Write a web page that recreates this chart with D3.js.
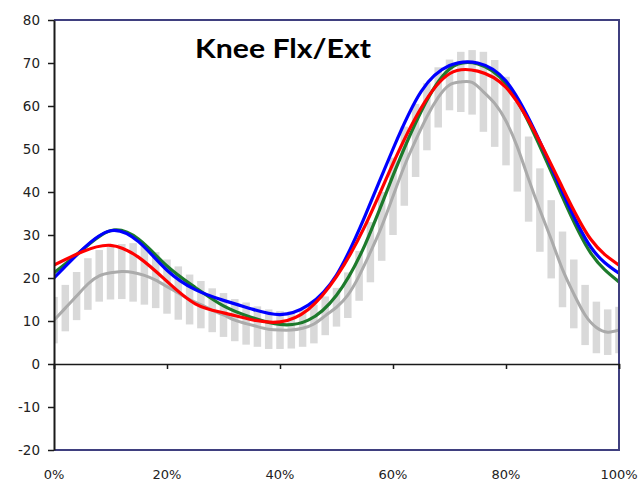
<!DOCTYPE html>
<html>
<head>
<meta charset="utf-8">
<script src="https://cdn.jsdelivr.net/npm/d3@7"></script>
<style>
  html, body { margin: 0; padding: 0; background: #fff; }
  svg { display: block; }
</style>
</head>
<body>
<script>
// ---- Data ----
const chartTitle = "Knee Flx/Ext";
const yTicks = [-20, -10, 0, 10, 20, 30, 40, 50, 60, 70, 80];
const xTicks = [0, 20, 40, 60, 80, 100];
const xTickLabels = ["0%", "20%", "40%", "60%", "80%", "100%"];

// Normative band (mean ± SD), every 2% of cycle
const normPct = [0,2,4,6,8,10,12,14,16,18,20,22,24,26,28,30,32,34,36,38,40,42,44,46,48,50,
                 52,54,56,58,60,62,64,66,68,70,72,74,76,78,80,82,84,86,88,90,92,94,96,98,100];
const normMean = [10.2,13,15.8,18.6,20.5,21.2,21.5,21.3,20.6,19.5,18,16.5,15,13.8,12.5,11.4,10.2,9.4,8.7,8.1,7.9,7.9,8.3,9.3,11.2,13.2,
                  16,20.5,26,32,39,46,52,57.5,62,64.9,65.6,65.5,63.3,60.6,56.5,50.5,43,35.8,29,22,16.3,11.4,8.5,7.4,7.9];
const normSD = [5.4,5.4,5.6,6,6,6.2,6.4,6.8,6.8,6.5,6.3,6.2,5.8,5.5,5.1,5.1,4.9,4.9,4.7,4.6,4.4,4.3,4.3,4.5,4.5,4.5,
                5.3,5.8,7,8,9,9.2,8.5,7.8,7,5.9,7,7.5,9.3,10.1,10.3,10.4,9.9,9.7,9.1,8.8,8,7,6,5.3,5.4];

// Subject curves, every 5% of cycle
const curvePct = [0,5,10,15,20,25,30,35,40,45,50,55,60,65,70,75,80,85,90,95,100];
const greenVals = [21.2,26.5,31,29,22.8,17.8,13.5,10.8,9.2,10.2,16,27.6,43.8,58.8,68.6,69.8,65.2,53.5,38.8,25.8,19.1];
const blueVals  = [20,26.6,31,28.4,21.8,17.3,14.8,12.8,11.5,13.7,20.7,34.3,50,63.4,69.4,70.0,65.8,54.5,40,27.2,21.1];
const redVals   = [23,26.1,27.6,24.8,19.2,14,11.9,10.3,9.8,12.7,20.3,32,46.6,59.6,67.5,68.1,64.3,54.2,41,29,23];

// ---- Chart ----
const W = 638, H = 482;
const svg = d3.select("body").append("svg").attr("width", W).attr("height", H);

const x = d3.scaleLinear().domain([0, 100]).range([54, 619]);
const y = d3.scaleLinear().domain([-20, 80]).range([450, 20]);

svg.append("defs").append("clipPath").attr("id", "plotClip")
  .append("rect").attr("x", x(0)).attr("y", y(80)).attr("width", x(100) - x(0)).attr("height", y(-20) - y(80));

const plot = svg.append("g").attr("clip-path", "url(#plotClip)");

// SD bars
const barW = 7.5;
plot.selectAll("rect.sd").data(normPct).enter().append("rect")
  .attr("class", "sd")
  .attr("x", (d) => x(d) - barW / 2)
  .attr("width", barW)
  .attr("y", (d, i) => y(normMean[i] + normSD[i]))
  .attr("height", (d, i) => y(normMean[i] - normSD[i]) - y(normMean[i] + normSD[i]))
  .attr("fill", "#d9d9d9");

// Mean line
const meanLine = d3.line().x((d) => x(d[0])).y((d) => y(d[1])).curve(d3.curveNatural);
plot.append("path")
  .datum(normPct.map((p, i) => [p, normMean[i]]))
  .attr("d", meanLine)
  .attr("fill", "none").attr("stroke", "#ababab").attr("stroke-width", 3);

const cLine = d3.line().x((d) => x(d[0])).y((d) => y(d[1])).curve(d3.curveNatural);
const series = [
  { vals: greenVals, color: "#1d7a2c" },
  { vals: blueVals, color: "#0000ff" },
  { vals: redVals, color: "#ff0000" }
];
series.forEach((s) => {
  plot.append("path")
    .datum(curvePct.map((p, i) => [p, s.vals[i]]))
    .attr("d", cLine)
    .attr("fill", "none").attr("stroke", s.color).attr("stroke-width", 3.2)
    .attr("stroke-linejoin", "round");
});

// Plot border (top, right, bottom)
const navy = "#3f3f7f";
svg.append("path")
  .attr("d", `M${x(0)},${y(80)}H${x(100)}V${y(-20)}H${x(0)}`)
  .attr("fill", "none").attr("stroke", navy).attr("stroke-width", 2);

// Zero line (x axis)
const xAxis = d3.axisBottom(x).tickValues(xTicks).tickSize(5).tickFormat("");
const xg = svg.append("g").attr("transform", `translate(0,${y(0)})`).call(xAxis);
xg.select(".domain").attr("stroke", "#1a1a1a").attr("stroke-width", 1.5);
xg.selectAll(".tick line").attr("stroke", "#1a1a1a").attr("stroke-width", 1.5);

// Left axis
const yAxis = d3.axisLeft(y).tickValues(yTicks).tickSize(6).tickSizeOuter(0).tickFormat("");
const yg = svg.append("g").attr("transform", `translate(${x(0)},0)`).call(yAxis);
yg.select(".domain").attr("stroke", "#1a1a1a").attr("stroke-width", 2);
yg.selectAll(".tick line").attr("stroke", "#1a1a1a").attr("stroke-width", 1.5);

// Y labels
svg.append("g").selectAll("text").data(yTicks).enter().append("text")
  .attr("x", 40).attr("y", (d) => y(d)).attr("dy", "0.36em")
  .attr("text-anchor", "end")
  .attr("font-family", "DejaVu Sans, Verdana, sans-serif")
  .attr("font-size", 13.5).attr("fill", "#222")
  .text((d) => d);

// X labels
svg.append("g").selectAll("text").data(xTicks).enter().append("text")
  .attr("x", (d) => x(d)).attr("y", 479)
  .attr("text-anchor", "middle")
  .attr("font-family", "DejaVu Sans, Verdana, sans-serif")
  .attr("font-size", 13).attr("fill", "#222")
  .text((d, i) => xTickLabels[i]);

// Title
svg.append("text")
  .attr("x", 195).attr("y", 58)
  .attr("font-family", "Lato, 'Open Sans', sans-serif")
  .attr("font-weight", 700).attr("font-size", 27)
  .attr("fill", "#000")
  .attr("textLength", 176).attr("lengthAdjust", "spacingAndGlyphs")
  .text(chartTitle);
</script>
</body>
</html>
